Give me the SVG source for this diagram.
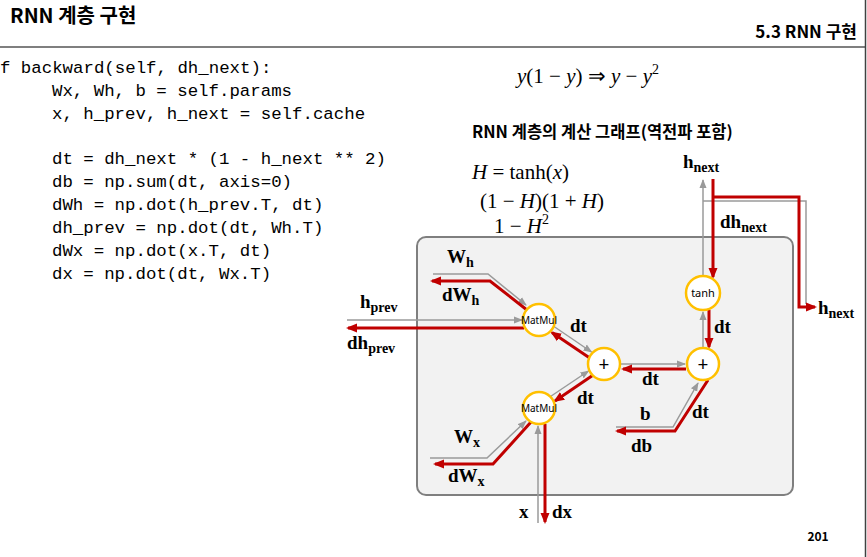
<svg xmlns="http://www.w3.org/2000/svg" width="867" height="557" viewBox="0 0 867 557">
<style>
.ttl{font-family:"Noto Sans CJK KR","Noto Sans",sans-serif;font-weight:700;fill:#000}
.code{font-family:"Liberation Mono",monospace;font-size:17.4px;fill:#000;white-space:pre}
.math{font-family:"Liberation Serif",serif;font-size:21px;fill:#000}
.it{font-style:italic}
.lb{font-family:"Liberation Serif",serif;font-weight:700;font-size:19px;fill:#000}
.sub{font-size:14px}
.g{fill:none;stroke:#9a9a9a;stroke-width:1.5}
.r{fill:none;stroke:#c00000;stroke-width:3}
.nd{fill:#fff;stroke:#ffc000;stroke-width:2.5}
.nt{font-family:"Noto Sans","Liberation Sans",sans-serif;fill:#000;text-anchor:middle}
</style>
<defs>
<marker id="ga" markerWidth="9" markerHeight="8" refX="8" refY="4" orient="auto" markerUnits="userSpaceOnUse"><path d="M0,0.5 L9,4 L0,7.5 z" fill="#9a9a9a"/></marker>
<marker id="ra" markerWidth="11" markerHeight="10" refX="9" refY="5" orient="auto" markerUnits="userSpaceOnUse"><path d="M0,0.5 L11,5 L0,9.5 z" fill="#c00000"/></marker>
</defs>
<rect width="867" height="557" fill="#fff"/>
<!-- header -->
<text class="ttl" x="10" y="23" font-size="20">RNN 계층 구현</text>
<text class="ttl" x="857" y="38" font-size="17" text-anchor="end">5.3 RNN 구현</text>
<line x1="0" y1="47" x2="866" y2="47" stroke="#7f7f7f" stroke-width="2"/>
<line x1="865.5" y1="0" x2="865.5" y2="557" stroke="#404040" stroke-width="1.5"/>
<!-- code -->
<g id="code">
<text class="code" x="0" y="73">f backward(self, dh_next):</text>
<text class="code" x="52" y="96">Wx, Wh, b = self.params</text>
<text class="code" x="52" y="119">x, h_prev, h_next = self.cache</text>
<text class="code" x="52" y="164">dt = dh_next * (1 - h_next ** 2)</text>
<text class="code" x="52" y="187">db = np.sum(dt, axis=0)</text>
<text class="code" x="52" y="210">dWh = np.dot(h_prev.T, dt)</text>
<text class="code" x="52" y="233">dh_prev = np.dot(dt, Wh.T)</text>
<text class="code" x="52" y="256">dWx = np.dot(x.T, dt)</text>
<text class="code" x="52" y="279">dx = np.dot(dt, Wx.T)</text>
</g>
<!-- math -->
<text class="math" x="517" y="83" font-size="21.5"><tspan class="it">y</tspan>(1 − <tspan class="it">y</tspan>) ⇒ <tspan class="it">y</tspan> − <tspan class="it">y</tspan><tspan font-size="14" dy="-9">2</tspan></text>
<text class="ttl" x="472" y="138" font-size="16.5" font-weight="600">RNN 계층의 계산 그래프(역전파 포함)</text>
<text class="math" x="472" y="179"><tspan class="it">H</tspan> = tanh(<tspan class="it">x</tspan>)</text>
<text class="math" x="480" y="208">(1 − <tspan class="it">H</tspan>)(1 + <tspan class="it">H</tspan>)</text>
<text class="math" x="494" y="233">1 − <tspan class="it">H</tspan><tspan font-size="14" dy="-9">2</tspan></text>
<!-- box -->
<rect x="417" y="237" width="376" height="258" rx="9" fill="#f2f2f2" stroke="#7f7f7f" stroke-width="2"/>
<!-- connectors -->
<g id="connectors">
<path class="g" d="M703,276 V180" marker-end="url(#ga)"/>
<path class="g" d="M703,201 H806 V304"/>
<path class="g" d="M703,347 V312" marker-end="url(#ga)"/>
<path class="g" d="M620,364 H685" marker-end="url(#ga)"/>
<path class="g" d="M554,326.5 L591.5,352" marker-end="url(#ga)"/>
<path class="g" d="M550.5,396.5 L588.5,371" marker-end="url(#ga)"/>
<path class="g" d="M433,274 H488 L526,305" marker-end="url(#ga)"/>
<path class="g" d="M347,320 H522" marker-end="url(#ga)"/>
<path class="g" d="M430,458 H487 L526,421" marker-end="url(#ga)"/>
<path class="g" d="M538,523 V426" marker-end="url(#ga)"/>
<path class="g" d="M616,427 H673 L698,383" marker-end="url(#ga)"/>
<path class="r" d="M713,179 V277" marker-end="url(#ra)"/>
<path class="r" d="M713,197 H799 V307 H815" marker-end="url(#ra)"/>
<path class="r" d="M709,310 V347" marker-end="url(#ra)"/>
<path class="r" d="M686,369 H623" marker-end="url(#ra)"/>
<path class="r" d="M589,357.5 L552,332.5" marker-end="url(#ra)"/>
<path class="r" d="M592.5,375.5 L555,401" marker-end="url(#ra)"/>
<path class="r" d="M527,310 L490,281 H432" marker-end="url(#ra)"/>
<path class="r" d="M524,328 H348" marker-end="url(#ra)"/>
<path class="r" d="M531,422 L493,464 H435" marker-end="url(#ra)"/>
<path class="r" d="M545,424 V522" marker-end="url(#ra)"/>
<path class="r" d="M708,380 L675,431 H617" marker-end="url(#ra)"/>
</g>
<!-- nodes -->
<g id="matmul-h"><circle class="nd" cx="539" cy="320" r="16"/><text class="nt" x="539" y="323.5" font-size="10">MatMul</text></g>
<g id="matmul-x"><circle class="nd" cx="539" cy="408" r="16"/><text class="nt" x="539" y="411.5" font-size="10">MatMul</text></g>
<g id="plus-1"><circle class="nd" cx="604" cy="364" r="16"/><text class="nt" x="604" y="370.5" font-size="19">+</text></g>
<g id="plus-2"><circle class="nd" cx="703" cy="364" r="16"/><text class="nt" x="703" y="370.5" font-size="19">+</text></g>
<g id="tanh"><circle class="nd" cx="703" cy="293" r="17"/><text class="nt" x="703" y="297" font-size="11">tanh</text></g>
<!-- labels -->
<g id="labels">
<text class="lb" x="683" y="168">h<tspan class="sub" dy="4">next</tspan></text>
<text class="lb" x="720" y="228">dh<tspan class="sub" dy="4">next</tspan></text>
<text class="lb" x="818" y="314">h<tspan class="sub" dy="4">next</tspan></text>
<text class="lb" x="447" y="263">W<tspan class="sub" dy="4">h</tspan></text>
<text class="lb" x="442" y="301">dW<tspan class="sub" dy="4">h</tspan></text>
<text class="lb" x="360" y="308">h<tspan class="sub" dy="4">prev</tspan></text>
<text class="lb" x="347" y="349">dh<tspan class="sub" dy="4">prev</tspan></text>
<text class="lb" x="570" y="332">dt</text>
<text class="lb" x="714" y="333">dt</text>
<text class="lb" x="642" y="385">dt</text>
<text class="lb" x="577" y="404">dt</text>
<text class="lb" x="692" y="418">dt</text>
<text class="lb" x="640" y="420">b</text>
<text class="lb" x="631" y="452">db</text>
<text class="lb" x="454" y="443">W<tspan class="sub" dy="4">x</tspan></text>
<text class="lb" x="448" y="482">dW<tspan class="sub" dy="4">x</tspan></text>
<text class="lb" x="519" y="518">x</text>
<text class="lb" x="552" y="518">dx</text>
</g>
<text class="ttl" x="818" y="541" font-size="12" text-anchor="middle">201</text>
</svg>
